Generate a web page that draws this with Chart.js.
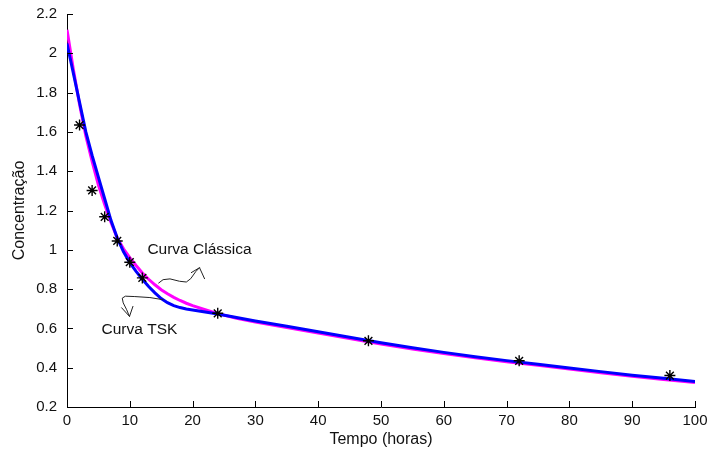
<!DOCTYPE html>
<html>
<head>
<meta charset="utf-8">
<script src="https://cdn.jsdelivr.net/npm/chart.js@4.4.1/dist/chart.umd.min.js"></script>
<style>
  html, body { margin: 0; padding: 0; background: #fff; }
  #wrap { width: 708px; height: 455px; }
</style>
</head>
<body>
<div id="wrap"><canvas id="grafico" width="708" height="455"></canvas></div>
<script>
// tempos (horas) das curvas
const tempo = [0, 1, 2, 3, 4, 5, 6, 7, 8, 9, 10, 11, 12, 13, 14, 15, 16, 17, 18, 19, 20,
               22, 24, 27, 30, 35, 40, 45, 50, 55, 60, 65, 70, 75, 80, 85, 90, 95, 100];
// curva classica (magenta)
const curvaClassica = [2.12, 1.92, 1.74, 1.58, 1.45, 1.33, 1.23, 1.14, 1.06, 1.005, 0.960, 0.920, 0.882,
                       0.850, 0.822, 0.797, 0.776, 0.758, 0.742, 0.728, 0.716,
                       0.695, 0.675, 0.652, 0.633, 0.604, 0.577, 0.549, 0.521, 0.495, 0.472, 0.450,
                       0.430, 0.412, 0.393, 0.374, 0.356, 0.340, 0.325];
// curva TSK (azul)
const curvaTSK = [2.05, 1.90, 1.75, 1.60, 1.48, 1.37, 1.26, 1.15, 1.06, 0.99, 0.935, 0.890, 0.850,
                  0.813, 0.781, 0.752, 0.731, 0.716, 0.706, 0.699, 0.694,
                  0.684, 0.673, 0.655, 0.638, 0.611, 0.583, 0.555, 0.527, 0.501, 0.478, 0.456,
                  0.436, 0.418, 0.399, 0.380, 0.362, 0.346, 0.330];
// pontos medidos (asteriscos)
const tempoMedido = [2, 4, 6, 8, 10, 12, 24, 48, 72, 96];
const concMedida = [1.635, 1.302, 1.168, 1.045, 0.937, 0.857, 0.677, 0.537, 0.435, 0.360];

const xTicks = [0, 10, 20, 30, 40, 50, 60, 70, 80, 90, 100];
const yTicks = [0.2, 0.4, 0.6, 0.8, 1, 1.2, 1.4, 1.6, 1.8, 2, 2.2];

// rotulos e setas desenhadas a mao (em coordenadas dos dados)
const rotulos = [
  { texto: 'Curva Clássica', x: 12.8, y: 1.0 },
  { texto: 'Curva TSK', x: 5.5, y: 0.593 }
];
const setaClassica = [[14.6, 0.831], [15.3, 0.848], [16.4, 0.852], [17.9, 0.840], [19.0, 0.836],
                      [19.7, 0.853], [20.5, 0.889], [21.1, 0.909]];
const pontaClassica = [[19.8, 0.884], [21.1, 0.909], [21.9, 0.853]];
const setaTSK = [[15.3, 0.746], [13.2, 0.757], [10.8, 0.762], [9.3, 0.764], [8.8, 0.754],
                 [8.95, 0.730], [9.5, 0.695], [9.95, 0.661]];
const pontaTSK = [[8.7, 0.705], [9.95, 0.661], [10.5, 0.712]];

const fonte = '"Liberation Sans", Arial, sans-serif';

function pares(xs, ys) {
  return xs.map((x, i) => ({ x: x, y: ys[i] }));
}

// ticks para dentro + anotacoes
const extras = {
  id: 'extras',
  afterDraw(chart) {
    const ctx = chart.ctx;
    const sx = chart.scales.x, sy = chart.scales.y;
    const area = chart.chartArea;
    ctx.save();
    ctx.strokeStyle = '#000';
    ctx.lineWidth = 1;
    ctx.beginPath();
    xTicks.forEach(v => {
      const px = Math.round(sx.getPixelForValue(v)) + 0.5;
      ctx.moveTo(px, area.bottom);
      ctx.lineTo(px, area.bottom - 6);
    });
    yTicks.forEach(v => {
      const py = Math.round(sy.getPixelForValue(v)) + 0.5;
      ctx.moveTo(area.left, py);
      ctx.lineTo(area.left + 6, py);
    });
    ctx.stroke();

    const linha = (pts) => {
      ctx.beginPath();
      pts.forEach((p, i) => {
        const px = sx.getPixelForValue(p[0]), py = sy.getPixelForValue(p[1]);
        if (i === 0) ctx.moveTo(px, py); else ctx.lineTo(px, py);
      });
      ctx.stroke();
    };
    ctx.strokeStyle = '#222';
    ctx.lineJoin = 'round';
    ctx.lineCap = 'round';
    linha(setaClassica);
    linha(pontaClassica);
    linha(setaTSK);
    linha(pontaTSK);

    ctx.fillStyle = '#111';
    ctx.font = '15.5px ' + fonte;
    ctx.textBaseline = 'middle';
    ctx.textAlign = 'left';
    rotulos.forEach(r => {
      ctx.fillText(r.texto, sx.getPixelForValue(r.x), sy.getPixelForValue(r.y));
    });
    ctx.restore();
  }
};

new Chart(document.getElementById('grafico'), {
  type: 'line',
  data: {
    datasets: [
      {
        label: 'Medidos',
        data: pares(tempoMedido, concMedida),
        showLine: false,
        pointStyle: 'star',
        pointRadius: 5.5,
        pointBorderColor: '#000',
        pointBackgroundColor: '#000',
        pointBorderWidth: 1.4,
        order: 0
      },
      {
        label: 'Curva TSK',
        data: pares(tempo, curvaTSK),
        borderColor: '#0000ff',
        borderWidth: 3,
        pointRadius: 0,
        tension: 0,
        fill: false,
        order: 1
      },
      {
        label: 'Curva Clássica',
        data: pares(tempo, curvaClassica),
        borderColor: '#ff00ff',
        borderWidth: 3,
        pointRadius: 0,
        tension: 0,
        fill: false,
        order: 2
      }
    ]
  },
  options: {
    responsive: false,
    animation: false,
    layout: { padding: { top: 14, right: 13, left: 0, bottom: 0 } },
    plugins: {
      legend: { display: false },
      tooltip: { enabled: false }
    },
    scales: {
      x: {
        type: 'linear',
        min: 0,
        max: 100,
        afterBuildTicks: s => { s.ticks = xTicks.map(v => ({ value: v })); },
        afterFit: s => { s.height = 48; s.paddingLeft = 0; s.paddingRight = 0; },
        grid: { drawOnChartArea: false, drawTicks: false },
        border: { display: true, color: '#000', width: 1 },
        ticks: {
          padding: 5,
          color: '#111',
          font: { family: fonte, size: 15 },
          maxRotation: 0,
          callback: v => String(v)
        },
        title: {
          display: true,
          text: 'Tempo (horas)',
          color: '#111',
          font: { family: fonte, size: 16 },
          padding: { top: 0, bottom: 6 }
        }
      },
      y: {
        type: 'linear',
        min: 0.2,
        max: 2.2,
        afterBuildTicks: s => { s.ticks = yTicks.map(v => ({ value: v })); },
        afterFit: s => { s.width = 67; s.paddingTop = 0; s.paddingBottom = 0; },
        grid: { drawOnChartArea: false, drawTicks: false },
        border: { display: true, color: '#000', width: 1 },
        ticks: {
          padding: 10,
          color: '#111',
          font: { family: fonte, size: 15 },
          callback: v => String(+v.toFixed(1))
        },
        title: {
          display: true,
          text: 'Concentração',
          color: '#111',
          font: { family: fonte, size: 16 },
          padding: { top: 10, bottom: 0 }
        }
      }
    }
  },
  plugins: [extras]
});
</script>
</body>
</html>
